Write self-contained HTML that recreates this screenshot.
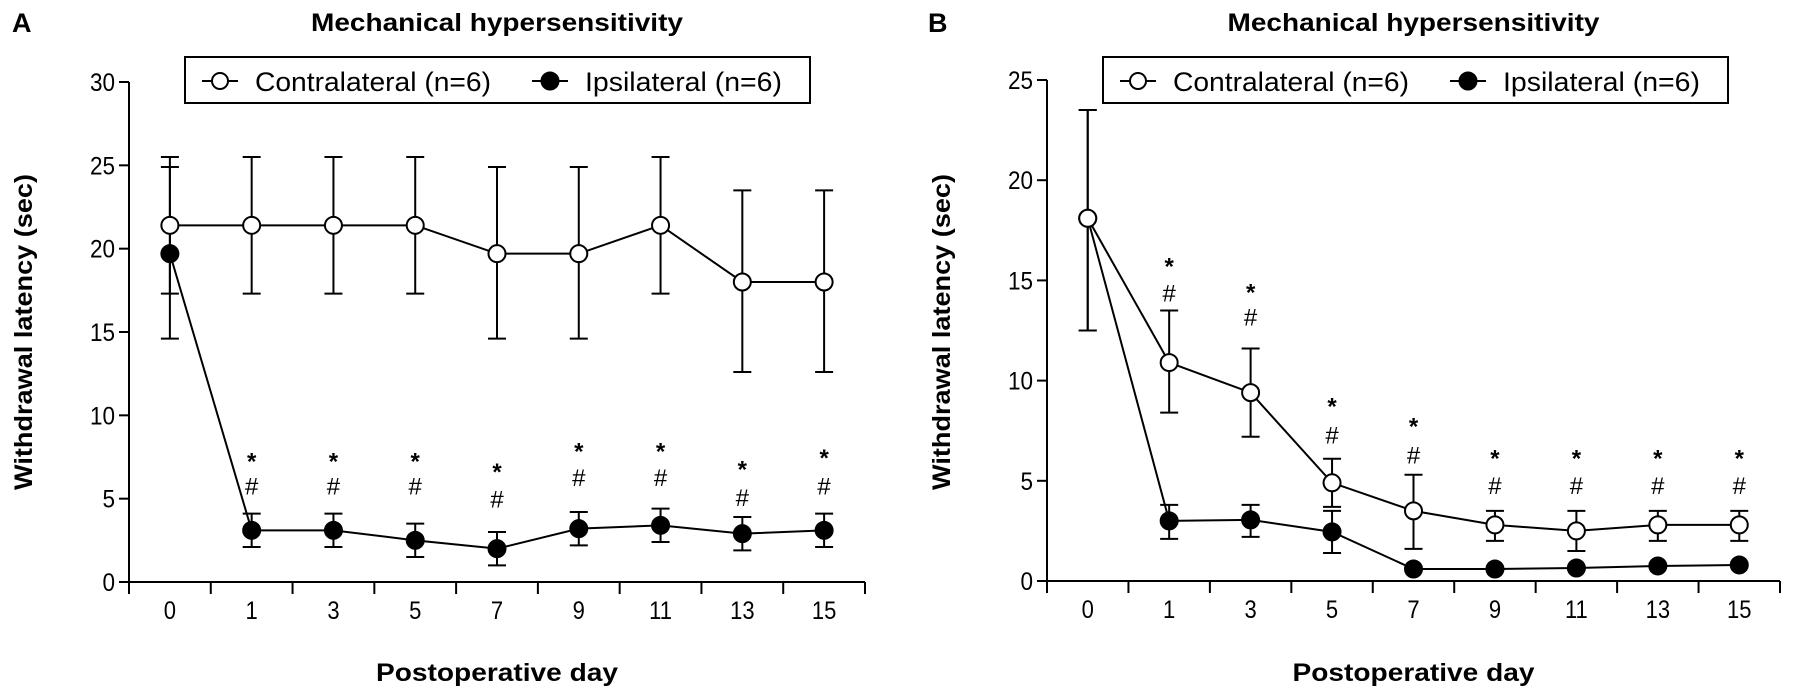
<!DOCTYPE html>
<html><head><meta charset="utf-8"><style>
html,body{margin:0;padding:0;background:#fff;}
svg{display:block;font-family:"Liberation Sans",Arial,sans-serif;}
</style></head><body>
<svg id="fig" width="1795" height="698" viewBox="0 0 1795 698"></svg>
<script>
const categories = ["0","1","3","5","7","9","11","13","15"];
// Panel A
const aContraMean = [21.4,21.4,21.4,21.4,19.7,19.7,21.4,18.0,18.0];
const aContraHi   = [25.5,25.5,25.5,25.5,24.9,24.9,25.5,23.5,23.5];
const aContraLo   = [17.3,17.3,17.3,17.3,14.6,14.6,17.3,12.6,12.6];
const aIpsiMean   = [19.7,3.1,3.1,2.5,2.0,3.2,3.4,2.9,3.1];
const aIpsiHi     = [24.9,4.1,4.1,3.5,3.0,4.2,4.4,3.9,4.1];
const aIpsiLo     = [14.6,2.1,2.1,1.5,1.0,2.2,2.4,1.9,2.1];
const aStarY      = [null,7.6,7.6,7.6,6.95,8.2,8.2,7.1,7.8];
const aHashY      = [null,5.8,5.8,5.8,5.0,6.3,6.3,5.1,5.8];
const aYTicks     = [0,5,10,15,20,25,30];
// Panel B
const bContraMean = [18.1,10.9,9.4,4.9,3.5,2.8,2.5,2.8,2.8];
const bContraHi   = [23.5,13.5,11.6,6.1,5.3,3.5,3.5,3.5,3.5];
const bContraLo   = [12.5,8.4,7.2,3.7,1.6,2.0,1.5,2.0,2.0];
const bIpsiMean   = [18.1,3.0,3.05,2.45,0.6,0.6,0.65,0.75,0.8];
const bIpsiHi     = [23.5,3.8,3.8,3.5,0.6,0.6,0.65,0.75,0.8];
const bIpsiLo     = [12.5,2.1,2.2,1.4,0.6,0.6,0.65,0.75,0.8];
const bStarY      = [null,16.0,14.7,9.0,8.0,6.4,6.4,6.4,6.4];
const bHashY      = [null,14.4,13.2,7.3,6.3,4.8,4.8,4.8,4.8];
const bYTicks     = [0,5,10,15,20,25];

const NS = "http://www.w3.org/2000/svg";
const svg = document.getElementById('fig');
function mk(tag, attrs, parent, text){
  const e = document.createElementNS(NS, tag);
  for (const k in attrs) e.setAttribute(k, attrs[k]);
  if (text !== undefined) e.textContent = text;
  (parent||svg).appendChild(e);
  return e;
}

function panel(p){
  const g = mk('g', {});
  
  
  const n = categories.length;
  const cw = (p.x1 - p.x0) / n;
  const xs = i => p.x0 + cw * (i + 0.5);
  const ys = v => p.y0 - (v / p.ymax) * (p.y0 - p.ytop);

  let t = mk('text', {x: p.lx, y: 32, 'font-size': 27, 'font-weight': 'bold'}, g, p.id);
  
  
  t = mk('text', {x: (p.x0+p.x1)/2, y: 31, 'font-size': 25, 'font-weight': 'bold', 'text-anchor': 'middle', textLength: 372, lengthAdjust: 'spacingAndGlyphs'}, g, 'Mechanical hypersensitivity');
  
  

  let a = mk('line', {x1: p.x0, y1: ys(p.ymax), x2: p.x0, y2: p.y0, stroke: '#000', 'stroke-width': 2}, g);
  
  
  a = mk('line', {x1: p.x0-10, y1: p.y0, x2: p.x1, y2: p.y0, stroke: '#000', 'stroke-width': 2}, g);
  
  
  p.yticks.forEach(v => {
    mk('line', {x1: p.x0-10, y1: ys(v), x2: p.x0, y2: ys(v), stroke: '#000', 'stroke-width': 2}, g);
    const l = mk('text', {x: p.x0-14, y: ys(v)+9, 'font-size': 25, 'text-anchor': 'end', transform: `translate(${p.x0-14},0) scale(0.9,1) translate(${-(p.x0-14)},0)`}, g, String(v));
    
    
  });
  for (let i = 0; i <= n; i++) {
    const x = p.x0 + cw*i;
    mk('line', {x1: x, y1: p.y0, x2: x, y2: p.y0+12, stroke: '#000', 'stroke-width': 2}, g);
  }
  categories.forEach((c, i) => {
    const l = mk('text', {x: xs(i), y: p.y0+37, 'font-size': 25, 'text-anchor': 'middle', transform: `translate(${xs(i)},0) scale(0.88,1) translate(${-xs(i)},0)`}, g, c);
    
    
  });
  t = mk('text', {x: (p.x0+p.x1)/2, y: 681, 'font-size': 25, 'font-weight': 'bold', 'text-anchor': 'middle', textLength: 242, lengthAdjust: 'spacingAndGlyphs'}, g, 'Postoperative day');
  
  
  t = mk('text', {x: 0, y: 0, 'font-size': 25, 'font-weight': 'bold', 'text-anchor': 'middle', transform: `translate(${p.tx},332) rotate(-90)`, textLength: 316, lengthAdjust: 'spacingAndGlyphs'}, g, 'Withdrawal latency (sec)');
  
  

  function series(name, mean, hi, lo, fill){
    const sg = mk('g', {}, g);
    
    
    mean.forEach((m, i) => {
      const x = xs(i);
      if (hi[i] !== m || lo[i] !== m) {
        const e = mk('path', {d: `M${x},${ys(hi[i])}V${ys(lo[i])}M${x-9},${ys(hi[i])}H${x+9}M${x-9},${ys(lo[i])}H${x+9}`, stroke: '#000', 'stroke-width': 2, fill: 'none'}, sg);
        
        
      }
    });
    const line = mk('polyline', {points: mean.map((m,i)=>xs(i)+','+ys(m)).join(' '), fill: 'none', stroke: '#000', 'stroke-width': 2}, sg);
    
    
    mean.forEach((m, i) => {
      const c = mk('circle', {cx: xs(i), cy: ys(m), r: 8.5, fill: fill, stroke: '#000', 'stroke-width': 2}, sg);
      
      
    });
  }
  series('ipsilateral', p.iM, p.iH, p.iL, '#000');
  series('contralateral', p.cM, p.cH, p.cL, '#fff');

  p.star.forEach((v, i) => {
    if (v === null) return;
    let s = mk('text', {x: xs(i), y: ys(v)+14, 'font-size': 24, 'font-weight': 'bold', 'text-anchor': 'middle'}, g, '*');
    
    
    s = mk('text', {x: xs(i), y: ys(p.hash[i])+9, 'font-size': 24, 'text-anchor': 'middle'}, g, '#');
    
    
  });

  const lg = mk('g', {}, g);
  
  
  mk('rect', {x: p.legx, y: 57, width: 625, height: 46, fill: '#fff', stroke: '#000', 'stroke-width': 2}, lg);
  const ly = 81;
  const e1 = mk('g', {}, lg);
  
  
  mk('line', {x1: p.legx+17, y1: ly, x2: p.legx+53, y2: ly, stroke: '#000', 'stroke-width': 2}, e1);
  mk('circle', {cx: p.legx+35, cy: ly, r: 8, fill: '#fff', stroke: '#000', 'stroke-width': 2}, e1);
  mk('text', {x: p.legx+70, y: ly+10, 'font-size': 27, textLength: 236, lengthAdjust: 'spacingAndGlyphs'}, e1, 'Contralateral (n=6)');
  const e2 = mk('g', {}, lg);
  
  
  mk('line', {x1: p.legx+347, y1: ly, x2: p.legx+383, y2: ly, stroke: '#000', 'stroke-width': 2}, e2);
  mk('circle', {cx: p.legx+365, cy: ly, r: 8.5, fill: '#000', stroke: '#000', 'stroke-width': 2}, e2);
  mk('text', {x: p.legx+400, y: ly+10, 'font-size': 27, textLength: 197, lengthAdjust: 'spacingAndGlyphs'}, e2, 'Ipsilateral (n=6)');
}

panel({id:'A', x0:129, x1:865, y0:582, ytop:82, ymax:30, lx:12, tx:32, legx:185, yticks:aYTicks,
  cM:aContraMean, cH:aContraHi, cL:aContraLo, iM:aIpsiMean, iH:aIpsiHi, iL:aIpsiLo, star:aStarY, hash:aHashY});
panel({id:'B', x0:1047, x1:1780, y0:581, ytop:80, ymax:25, lx:928, tx:950, legx:1103, yticks:bYTicks,
  cM:bContraMean, cH:bContraHi, cL:bContraLo, iM:bIpsiMean, iH:bIpsiHi, iL:bIpsiLo, star:bStarY, hash:bHashY});
</script>
</body></html>
